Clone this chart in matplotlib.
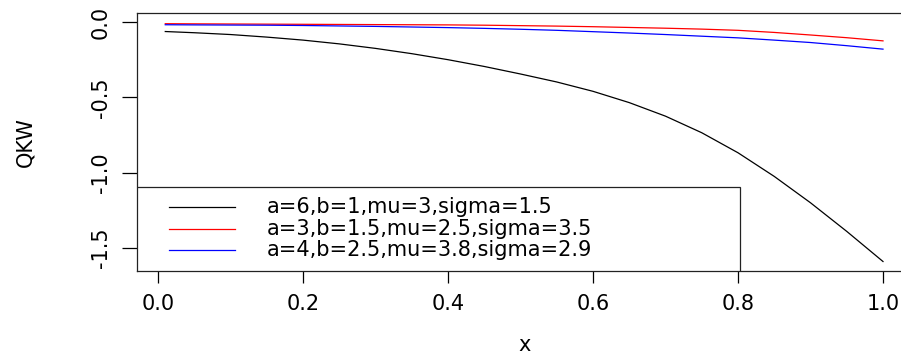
import matplotlib
matplotlib.use("Agg")
import matplotlib.pyplot as plt
from matplotlib.patches import Rectangle
from matplotlib.lines import Line2D

# ---- data ----
x = [0.01, 0.05, 0.10, 0.15, 0.20, 0.25, 0.30, 0.35, 0.40, 0.45, 0.50,
     0.55, 0.60, 0.65, 0.70, 0.75, 0.80, 0.85, 0.90, 0.95, 1.00]
qkw_black = [-0.063, -0.071, -0.083, -0.100, -0.120, -0.145, -0.175, -0.210,
             -0.250, -0.295, -0.345, -0.398, -0.460, -0.535, -0.625, -0.735,
             -0.868, -1.025, -1.200, -1.390, -1.590]
qkw_red = [-0.011, -0.012, -0.013, -0.014, -0.015, -0.016, -0.017, -0.018,
           -0.019, -0.021, -0.024, -0.027, -0.031, -0.036, -0.041, -0.047,
           -0.055, -0.069, -0.086, -0.104, -0.125]
qkw_blue = [-0.018, -0.019, -0.020, -0.021, -0.023, -0.026, -0.029, -0.033,
            -0.037, -0.042, -0.048, -0.055, -0.064, -0.073, -0.083, -0.094,
            -0.105, -0.120, -0.136, -0.157, -0.180]
labels = ["a=6,b=1,mu=3,sigma=1.5",
          "a=3,b=1.5,mu=2.5,sigma=3.5",
          "a=4,b=2.5,mu=3.8,sigma=2.9"]
colors = ["black", "red", "blue"]
xticks = [0.0, 0.2, 0.4, 0.6, 0.8, 1.0]
yticks = [0.0, -0.5, -1.0, -1.5]

plt.rcParams['font.family'] = ['DejaVu Sans']
FS = 15

W, H = 901, 357
fig = plt.figure(figsize=(W / 100, H / 100), dpi=100)
L, R, T, B = 137, 912, 13, 271
ax = fig.add_axes([L / W, 1 - B / H, (R - L) / W, (B - T) / H])

lw = 0.9
for ys, c in zip([qkw_black, qkw_red, qkw_blue], colors):
    ax.plot(x, ys, color=c, lw=lw)

ax.set_xlim(-0.029, 1.04)
ax.set_ylim(-1.653, 0.06)
ax.set_xticks(xticks)
ax.set_xticklabels([f"{v:.1f}" for v in xticks])
ax.set_yticks(yticks)
ax.set_yticklabels([f"{v:.1f}" for v in yticks])
ax.tick_params(axis='x', length=8.6, width=0.9, pad=8, labelsize=FS)
ax.tick_params(axis='y', length=10.8, width=0.9, pad=8, labelsize=FS,
               labelrotation=90)
for lab in ax.get_yticklabels():
    lab.set_va('center')
for s in ax.spines.values():
    s.set_linewidth(0.9)
    s.set_color('#222222')

ax.set_xlabel("x", fontsize=FS)
ax.xaxis.set_label_coords(0.5, (B - 345) / (B - T))
ax.xaxis.label.set_va('center')
ax.set_ylabel("QKW", fontsize=FS)
ax.yaxis.set_label_coords((25 - L) / (R - L), 0.5)
ax.yaxis.label.set_va('center')

# legend box (R-style)
aw, ah = R - L, B - T
ax.add_patch(Rectangle((0, 0), (740 - L) / aw, (B - 187) / ah,
                       transform=ax.transAxes, fill=True, facecolor='white',
                       edgecolor='#222222', lw=0.9, zorder=5))
rows = [207, 229, 250]
for py, lab, c in zip(rows, labels, colors):
    yy = (B - py) / ah
    ax.add_line(Line2D([(169 - L) / aw, (235 - L) / aw], [yy, yy],
                       transform=ax.transAxes, color=c, lw=lw, zorder=6))
    ax.text((267 - L) / aw, yy, lab, transform=ax.transAxes, fontsize=FS,
            va='center', ha='left', zorder=6)

fig.savefig("out.png", dpi=100)
